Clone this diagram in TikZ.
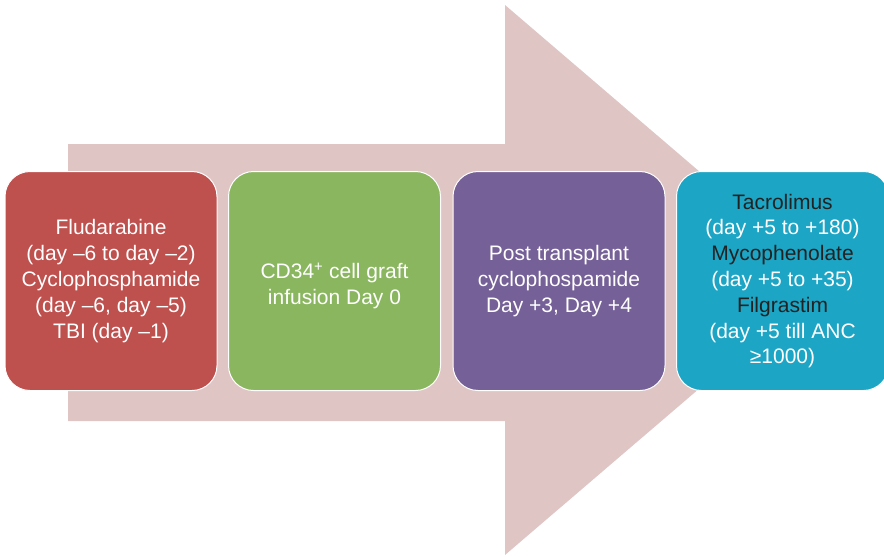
\documentclass[tikz,border=0pt]{standalone}
\usepackage{fontspec}
\setmainfont{Liberation Sans}
\definecolor{arrowpink}{HTML}{E0C5C5}
\definecolor{stepred}{HTML}{BE504E}
\definecolor{stepgreen}{HTML}{8AB660}
\definecolor{steppurple}{HTML}{756097}
\definecolor{stepteal}{HTML}{1CA5C4}
\definecolor{darktext}{HTML}{222222}
\begin{document}
\begin{tikzpicture}[x=1pt,y=-1pt,
  stagebox/.style={draw=white,line width=1pt,rounded corners=25pt,
    minimum width=212pt,minimum height=219pt,inner sep=0pt,
    align=center,text=white,font=\fontsize{21}{25.8}\selectfont},
  stagetext/.style={align=center,text=white,inner sep=0pt,
    font=\fontsize{21}{25.8}\selectfont}]
\useasboundingbox (0,0) rectangle (884,557);
\clip (0,0) rectangle (884,557);
% big background arrow
\fill[arrowpink] (68,144) -- (505,144) -- (505,5) -- (826,280)
  -- (505,555) -- (505,421) -- (68,421) -- cycle;
% the four treatment stages
\node[stagebox,fill=stepred] (cond) at (111,281)
  {Fludarabine\\(day –6 to day –2)\\Cyclophosphamide\\(day –6, day –5)\\TBI (day –1)};
\node[stagebox,fill=stepgreen] (graft) at (334.5,281) {};
\node[stagetext] (graftlabel) at ([yshift=-5pt]graft.center)
  {CD34\textsuperscript{+} cell graft\\infusion Day 0};
\node[stagebox,fill=steppurple] (ptcy) at (559,281)
  {Post transplant\\cyclophospamide\\Day +3, Day +4};
\node[stagebox,fill=stepteal] (supp) at (782.5,281)
  {\textcolor{darktext}{Tacrolimus}\\(day +5 to +180)\\\textcolor{darktext}{Mycophenolate}\\(day +5 to +35)\\\textcolor{darktext}{Filgrastim}\\(day +5 till ANC\\≥1000)};
\end{tikzpicture}
\end{document}
